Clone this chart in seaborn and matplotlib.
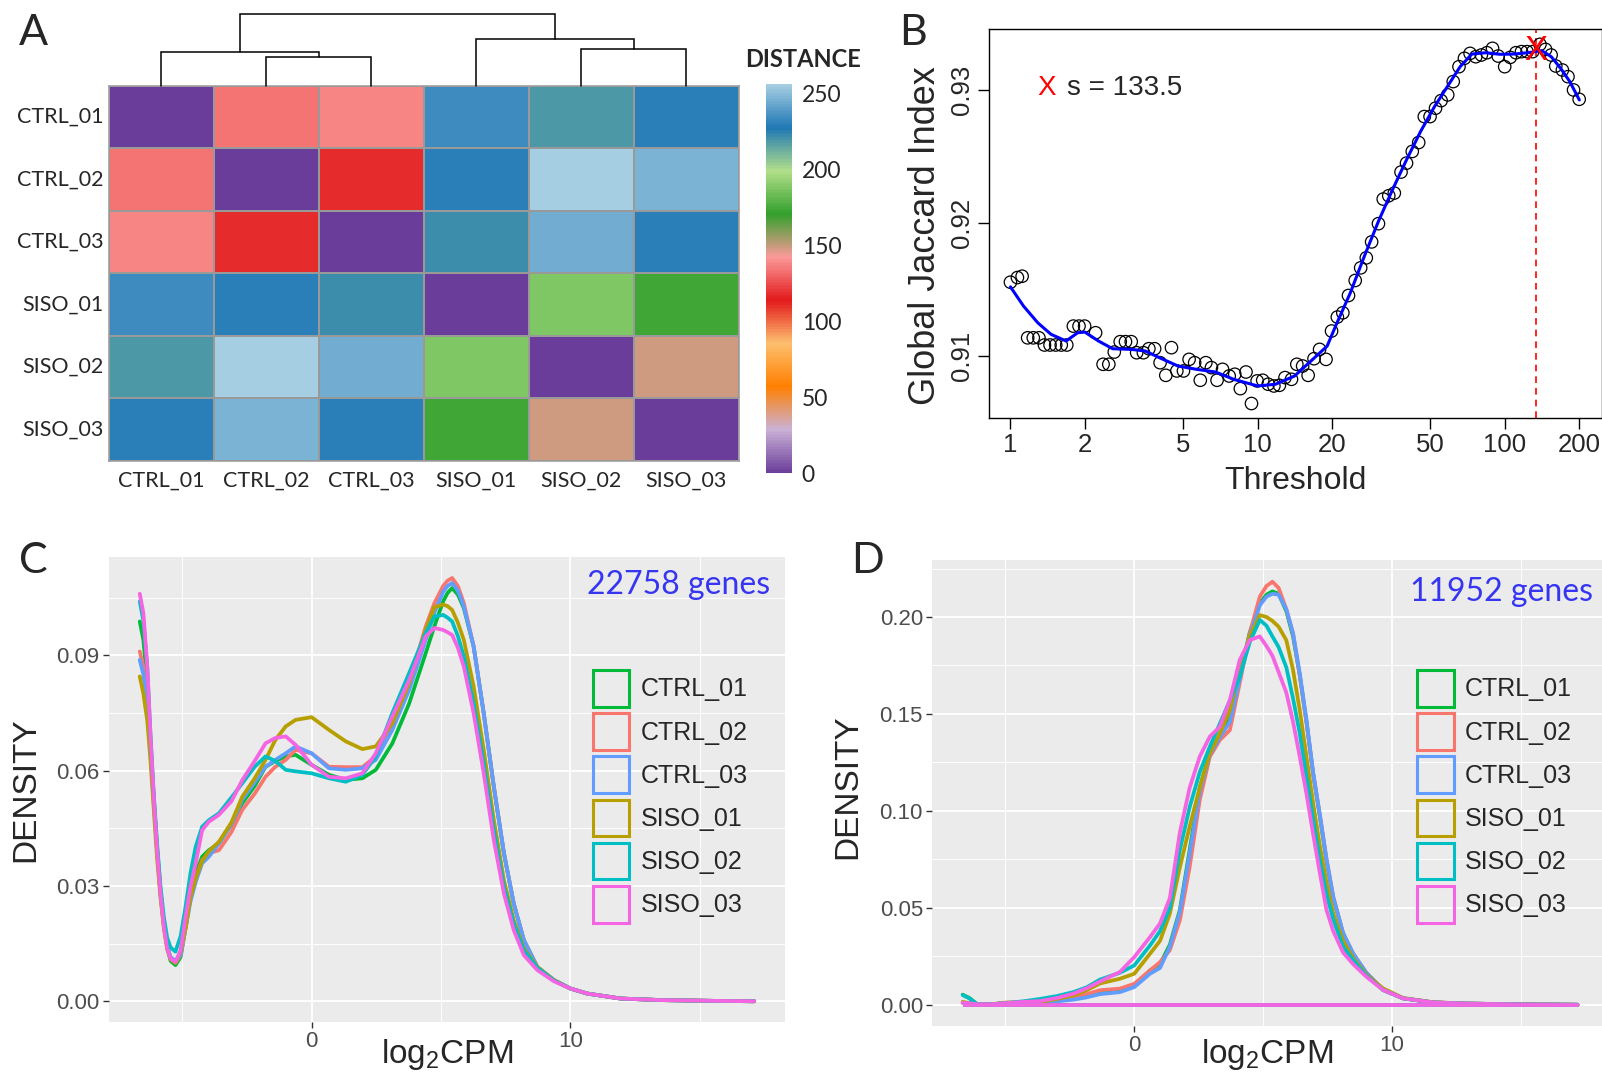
import matplotlib
matplotlib.use("Agg")
import matplotlib.pyplot as plt
from matplotlib.colors import LinearSegmentedColormap
from matplotlib.patches import Patch
from matplotlib.ticker import NullLocator
import seaborn as sns
import pandas as pd

sns.set_style("white")
plt.rcParams["font.family"] = ["Liberation Sans", "DejaVu Sans"]
plt.rcParams["mathtext.default"] = "regular"

# ---------------- data ----------------
samples = ["CTRL_01", "CTRL_02", "CTRL_03", "SISO_01", "SISO_02", "SISO_03"]
colors = ["#00BA38", "#F8766D", "#619CFF", "#B79F00", "#00BFC4", "#F564E3"]

# panel A: sample distance matrix
dist_ctrl01 = [0, 133, 137, 233, 218, 229]
dist_ctrl02 = [133, 0, 117, 229, 255, 246]
dist_ctrl03 = [137, 117, 0, 221, 244, 229]
dist_siso01 = [233, 229, 221, 0, 187, 173]
dist_siso02 = [218, 255, 244, 187, 0, 148]
dist_siso03 = [229, 246, 229, 173, 148, 0]
# dendrogram merges (leaves 0-5, new nodes numbered 6..)
merge_pairs = [(1, 2), (0, 6), (4, 5), (3, 8), (7, 9)]
merge_heights = [29.0, 34.0, 36.4, 46.7, 71.4]
cbar_ticks = [0, 50, 100, 150, 200, 250]
paired_rev = ["#6A3D9A", "#CAB2D6", "#FF7F00", "#FDBF6F", "#E31A1C",
              "#FB9A99", "#33A02C", "#B2DF8A", "#1F78B4", "#A6CEE3"]

# panel B: global jaccard index vs threshold
thr = [1.0, 1.067, 1.115, 1.174, 1.237, 1.304, 1.373, 1.446, 1.524, 1.605, 1.69,
       1.797, 1.894, 1.995, 2.21, 2.37, 2.50, 2.63, 2.78, 2.92, 3.08, 3.24, 3.45,
       3.63, 3.83, 4.03, 4.25, 4.48, 4.71, 5.01, 5.28, 5.56, 5.86, 6.17, 6.5, 6.85,
       7.21, 7.67, 8.08, 8.51, 8.97, 9.44, 9.95, 10.48, 11.03, 11.63, 12.24, 12.9,
       13.7, 14.4, 15.2, 16.0, 16.9, 17.8, 18.9, 19.9, 21.0, 22.1, 23.3, 24.8, 26.1,
       27.5, 28.9, 30.8, 32.2, 33.9, 35.7, 38.0, 40.0, 42.2, 44.8, 47.2, 49.8, 52.4,
       55.2, 58.7, 61.8, 65.2, 68.6, 72.3, 76.2, 80.3, 84.6, 89.1, 93.9, 99.8, 105.1,
       110.8, 116.7, 122.9, 129.5, 138.6, 146.0, 153.8, 160.6, 170.8, 179.9, 189.5, 199.7]
jac = [0.91555, 0.9159, 0.9160, 0.91137, 0.91137, 0.91137, 0.91083, 0.91083, 0.91083,
       0.91083, 0.91083, 0.91225, 0.91225, 0.91225, 0.91175, 0.90938, 0.90938, 0.9103,
       0.91108, 0.91108, 0.91108, 0.91025, 0.91025, 0.91055, 0.91055, 0.9095, 0.90855,
       0.91063, 0.90888, 0.90888, 0.90975, 0.9095, 0.90818, 0.9095, 0.90913, 0.90818,
       0.909, 0.9085, 0.90863, 0.90755, 0.9088, 0.90643, 0.90813, 0.90818, 0.90788,
       0.90775, 0.9078, 0.90838, 0.90825, 0.90938, 0.90925, 0.90855, 0.9098, 0.9105,
       0.90975, 0.91188, 0.91293, 0.91325, 0.91455, 0.91568, 0.91663, 0.91738, 0.91858,
       0.91995, 0.9218, 0.92205, 0.92225, 0.92383, 0.9245, 0.92538, 0.92605, 0.928,
       0.928, 0.92863, 0.9292, 0.92963, 0.93063, 0.93175, 0.93238, 0.93275, 0.9325,
       0.93263, 0.9328, 0.93313, 0.93255, 0.93175, 0.93245, 0.9328, 0.93288, 0.93288,
       0.93288, 0.93343, 0.93305, 0.93263, 0.9318, 0.9315, 0.931, 0.93, 0.9293]
fit_x = [1.0, 1.13, 1.29, 1.46, 1.68, 1.87, 2.0, 2.27, 2.59, 3.08, 3.51, 4.0, 4.76,
         5.66, 6.75, 8.0, 10.0, 11.8, 14.1, 16.7, 19.1, 20.8, 23.7, 27.0, 30.8, 35.1,
         40.0, 45.6, 51.9, 59.1, 65.9, 73.5, 83.8, 95.5, 109, 124, 141, 154, 168, 183, 200]
fit_y = [0.9152, 0.91375, 0.9125, 0.91163, 0.91113, 0.91175, 0.9118, 0.91113, 0.91055,
         0.9105, 0.91038, 0.90988, 0.90925, 0.909, 0.9088, 0.90825, 0.90775, 0.90788,
         0.9085, 0.90975, 0.91075, 0.91238, 0.91475, 0.9175, 0.92013, 0.9225, 0.92475,
         0.92688, 0.92875, 0.93038, 0.93175, 0.9327, 0.9328, 0.93268, 0.9327, 0.9328,
         0.93295, 0.9325, 0.93163, 0.93063, 0.92925]
best_s = 133.5
best_j = 0.93297
b_xticks = [1, 2, 5, 10, 20, 50, 100, 200]
b_yticks = [0.91, 0.92, 0.93]

# panel C: density of log2CPM, all genes
xC = [-6.64, -6.5, -6.35, -6.23, -6.1, -5.97, -5.84, -5.71, -5.58, -5.45,
      -5.26, -5.06, -4.87, -4.68, -4.48, -4.23, -3.97, -3.58, -3.1, -2.68,
      -2.2, -1.78, -1.4, -1.0, -0.62, 0.0, 0.67, 1.32, 1.96, 2.48,
      3.12, 3.77, 4.41, 4.74, 5.08, 5.25, 5.43, 5.65, 5.88, 6.26,
      6.65, 7.04, 7.43, 7.81, 8.2, 8.72, 9.36, 10.0, 10.65, 11.94,
      13.5, 15.5, 17.1]
c_ctrl01 = [0.0988, 0.0940, 0.0830, 0.0680, 0.0530, 0.0400, 0.0290, 0.0200, 0.0140, 0.0105,
            0.0094, 0.0115, 0.0194, 0.0280, 0.0333, 0.0376, 0.0393, 0.0411, 0.0460, 0.0515,
            0.0560, 0.0610, 0.0625, 0.0637, 0.0641, 0.0615, 0.0589, 0.0576, 0.0580, 0.0602,
            0.0671, 0.0775, 0.0906, 0.0975, 0.1040, 0.1062, 0.1075, 0.1058, 0.1023, 0.0923,
            0.0749, 0.0558, 0.0385, 0.0254, 0.0159, 0.0089, 0.0055, 0.0033, 0.0020, 0.0007,
            0.0003, 0.0001, 0.0]
c_ctrl02 = [0.0910, 0.0870, 0.0780, 0.0660, 0.0520, 0.0390, 0.0280, 0.0200, 0.0140, 0.0110,
            0.0100, 0.0120, 0.0190, 0.0270, 0.0320, 0.0367, 0.0385, 0.0393, 0.0440, 0.0498,
            0.0540, 0.0584, 0.0610, 0.0628, 0.0654, 0.0645, 0.0610, 0.0609, 0.0609, 0.0637,
            0.0723, 0.0828, 0.0975, 0.1035, 0.1080, 0.1094, 0.1101, 0.1080, 0.1036, 0.0923,
            0.0749, 0.0558, 0.0385, 0.0254, 0.0159, 0.0089, 0.0055, 0.0033, 0.0020, 0.0007,
            0.0003, 0.0001, 0.0]
c_ctrl03 = [0.0888, 0.0850, 0.0770, 0.0650, 0.0520, 0.0390, 0.0280, 0.0200, 0.0145, 0.0115,
            0.0105, 0.0120, 0.0190, 0.0260, 0.0310, 0.0359, 0.0376, 0.0411, 0.0460, 0.0524,
            0.0570, 0.0610, 0.0628, 0.0645, 0.0663, 0.0645, 0.0606, 0.0602, 0.0606, 0.0628,
            0.0706, 0.0810, 0.0940, 0.1010, 0.1065, 0.1080, 0.1088, 0.1068, 0.1027, 0.0923,
            0.0749, 0.0558, 0.0385, 0.0254, 0.0159, 0.0089, 0.0055, 0.0033, 0.0020, 0.0007,
            0.0003, 0.0001, 0.0]
c_siso01 = [0.0845, 0.0800, 0.0730, 0.0630, 0.0500, 0.0370, 0.0270, 0.0190, 0.0135, 0.0110,
            0.0100, 0.0130, 0.0190, 0.0270, 0.0320, 0.0365, 0.0390, 0.0415, 0.0465, 0.0532,
            0.0580, 0.0628, 0.0680, 0.0715, 0.0732, 0.0739, 0.0706, 0.0676, 0.0656, 0.0663,
            0.0723, 0.0828, 0.0966, 0.1025, 0.1032, 0.1028, 0.1018, 0.0985, 0.0940, 0.0819,
            0.0654, 0.0472, 0.0315, 0.0211, 0.0137, 0.0089, 0.0055, 0.0033, 0.0020, 0.0007,
            0.0003, 0.0001, 0.0]
c_siso02 = [0.1040, 0.0990, 0.0870, 0.0700, 0.0540, 0.0410, 0.0300, 0.0220, 0.0165, 0.0140,
            0.0129, 0.0170, 0.0246, 0.0333, 0.0402, 0.0454, 0.0471, 0.0489, 0.0530, 0.0567,
            0.0610, 0.0637, 0.0625, 0.0602, 0.0598, 0.0593, 0.0580, 0.0571, 0.0589, 0.0637,
            0.0750, 0.0854, 0.0958, 0.1001, 0.1005, 0.0998, 0.0988, 0.0950, 0.0897, 0.0775,
            0.0619, 0.0445, 0.0298, 0.0202, 0.0132, 0.0087, 0.0054, 0.0033, 0.0020, 0.0007,
            0.0003, 0.0001, 0.0]
c_siso03 = [0.1060, 0.1010, 0.0871, 0.0697, 0.0532, 0.0393, 0.0280, 0.0194, 0.0137, 0.0111,
            0.0102, 0.0133, 0.0220, 0.0298, 0.0359, 0.0445, 0.0467, 0.0485, 0.0520, 0.0575,
            0.0625, 0.0671, 0.0685, 0.0689, 0.0667, 0.0615, 0.0584, 0.0580, 0.0593, 0.0645,
            0.0741, 0.0836, 0.0949, 0.0971, 0.0966, 0.0960, 0.0953, 0.0920, 0.0871, 0.0749,
            0.0593, 0.0419, 0.0280, 0.0185, 0.0120, 0.0081, 0.0052, 0.0033, 0.0020, 0.0007,
            0.0003, 0.0001, 0.0]

# panel D: density of log2CPM, filtered genes
xD = [-6.66, -6.4, -6.1, -5.5, -4.95, -4.3, -3.66, -3.0, -2.37, -1.85,
      -1.33, -0.56, 0.0, 0.61, 1.0, 1.38, 1.77, 2.15, 2.54, 2.93,
      3.32, 3.71, 4.09, 4.48, 4.87, 5.13, 5.36, 5.6, 5.9, 6.16,
      6.42, 6.68, 6.94, 7.2, 7.46, 7.72, 8.1, 8.49, 9.0, 9.66,
      10.43, 11.6, 12.9, 15.0, 17.2]
d_ctrl01 = [0.0052, 0.0035, 0.0003, 0.0003, 0.0009, 0.0012, 0.0014, 0.0020, 0.0030, 0.0045,
            0.0065, 0.0080, 0.0100, 0.0177, 0.0210, 0.0310, 0.0490, 0.0800, 0.1120, 0.1300,
            0.1390, 0.1500, 0.1700, 0.1920, 0.2070, 0.2115, 0.2132, 0.2120, 0.2030, 0.1900,
            0.1700, 0.1460, 0.1190, 0.0970, 0.0740, 0.0550, 0.0370, 0.0260, 0.0165, 0.0076,
            0.0033, 0.0012, 0.0006, 0.0002, 0.0]
d_ctrl02 = [0.0010, 0.0008, 0.0003, 0.0003, 0.0009, 0.0012, 0.0014, 0.0025, 0.0040, 0.0055,
            0.0075, 0.0083, 0.0108, 0.0177, 0.0220, 0.0282, 0.0437, 0.0712, 0.1056, 0.1279,
            0.1365, 0.1417, 0.1658, 0.1916, 0.2105, 0.2160, 0.2182, 0.2150, 0.2040, 0.1916,
            0.1700, 0.1460, 0.1193, 0.0980, 0.0750, 0.0557, 0.0368, 0.0265, 0.0165, 0.0076,
            0.0033, 0.0012, 0.0006, 0.0002, 0.0]
d_ctrl03 = [0.0010, 0.0008, 0.0003, 0.0003, 0.0009, 0.0012, 0.0014, 0.0018, 0.0026, 0.0038,
            0.0055, 0.0065, 0.0091, 0.0160, 0.0190, 0.0300, 0.0480, 0.0780, 0.1100, 0.1290,
            0.1380, 0.1460, 0.1680, 0.1900, 0.2060, 0.2105, 0.2120, 0.2115, 0.2040, 0.1916,
            0.1710, 0.1470, 0.1200, 0.0980, 0.0750, 0.0557, 0.0370, 0.0265, 0.0165, 0.0076,
            0.0033, 0.0012, 0.0006, 0.0002, 0.0]
d_siso01 = [0.0015, 0.0008, 0.0003, 0.0003, 0.0012, 0.0012, 0.0014, 0.0030, 0.0048, 0.0075,
            0.0110, 0.0134, 0.0160, 0.0263, 0.0330, 0.0470, 0.0710, 0.0920, 0.1120, 0.1297,
            0.1400, 0.1520, 0.1727, 0.1900, 0.2010, 0.2000, 0.1980, 0.1950, 0.1880, 0.1727,
            0.1520, 0.1280, 0.1039, 0.0820, 0.0630, 0.0471, 0.0330, 0.0240, 0.0155, 0.0084,
            0.0035, 0.0013, 0.0006, 0.0002, 0.0]
d_siso02 = [0.0050, 0.0033, 0.0003, 0.0003, 0.0009, 0.0018, 0.0030, 0.0045, 0.0065, 0.0090,
            0.0130, 0.0165, 0.0203, 0.0306, 0.0380, 0.0500, 0.0800, 0.1020, 0.1200, 0.1331,
            0.1450, 0.1570, 0.1692, 0.1870, 0.1985, 0.1955, 0.1900, 0.1845, 0.1740, 0.1580,
            0.1400, 0.1180, 0.0960, 0.0746, 0.0570, 0.0440, 0.0300, 0.0230, 0.0150, 0.0076,
            0.0033, 0.0012, 0.0006, 0.0002, 0.0]
d_siso03 = [0.0010, 0.0008, 0.0003, 0.0003, 0.0009, 0.0015, 0.0019, 0.0035, 0.0057, 0.0085,
            0.0120, 0.0169, 0.0246, 0.0349, 0.0420, 0.0550, 0.0890, 0.1120, 0.1280, 0.1383,
            0.1434, 0.1572, 0.1778, 0.1881, 0.1900, 0.1850, 0.1800, 0.1716, 0.1610, 0.1460,
            0.1280, 0.1090, 0.0880, 0.0680, 0.0488, 0.0380, 0.0270, 0.0210, 0.0145, 0.0076,
            0.0033, 0.0012, 0.0006, 0.0002, 0.0]

c_yticks = [0.00, 0.03, 0.06, 0.09]
c_yminor = [0.015, 0.045, 0.075, 0.105]
d_yticks = [0.00, 0.05, 0.10, 0.15, 0.20]
d_yminor = [0.025, 0.075, 0.125, 0.175, 0.225]
x_major = [0, 10]
x_minor = [-5, 5, 15]
genes_c = 22758
genes_d = 11952

# ---------------- layout helpers (pixel boxes) ----------------
W, H = 1602, 1075
fig = plt.figure(figsize=(W / 100, H / 100), dpi=100)


def fx(px):
    return px / W


def fy(py):
    return 1 - py / H


def box(l, t, r, b):
    return [fx(l), fy(b), (r - l) / W, (b - t) / H]


pal = dict(zip(samples, colors))

# ---------------- A: heatmap ----------------
dist = pd.DataFrame([dist_ctrl01, dist_ctrl02, dist_ctrl03, dist_siso01, dist_siso02, dist_siso03],
                    index=samples, columns=samples)
cmap = LinearSegmentedColormap.from_list("paired_rev", paired_rev)
axA = fig.add_axes(box(108.8, 85.7, 738.6, 460.7))
cax = fig.add_axes(box(766.4, 84, 791.9, 473.3))
sns.heatmap(dist, cmap=cmap, vmin=0, vmax=256, linewidths=1.1, linecolor="#999999",
            cbar_ax=cax, ax=axA)
for s in axA.spines.values():
    s.set_visible(True)
    s.set_color("#999999")
    s.set_linewidth(1.1)
axA.tick_params(length=0)
axA.tick_params(axis="y", pad=4)
axA.tick_params(axis="x", pad=7)
axA.set_xticklabels(samples, rotation=0, fontfamily="Lato", fontsize=15.5)
axA.set_yticklabels(samples, rotation=0, fontfamily="Lato", fontsize=15.5)
axA.set_xlabel("")
axA.set_ylabel("")
cbar = axA.collections[0].colorbar
cbar.outline.set_visible(False)
cbar.set_ticks(cbar_ticks)
cax.tick_params(length=0, pad=7)
for t in cax.get_yticklabels():
    t.set_fontfamily("Lato")
    t.set_fontsize(16.5)
fig.text(fx(745), fy(66.7), "DISTANCE", fontfamily="Lato", fontweight="bold",
         fontsize=17, va="baseline", ha="left")

# dendrogram
axT = fig.add_axes(box(108.8, 14.3, 738.6, 85.7))
pos = {i: i + 0.5 for i in range(len(samples))}
hgt = {i: 0.0 for i in range(len(samples))}
for k, ((a, b), h) in enumerate(zip(merge_pairs, merge_heights)):
    axT.plot([pos[a], pos[a], pos[b], pos[b]], [hgt[a], h, h, hgt[b]],
             color="black", lw=1.1, clip_on=False, solid_joinstyle="miter")
    node = len(samples) + k
    pos[node] = (pos[a] + pos[b]) / 2
    hgt[node] = h
axT.set_xlim(0, len(samples))
axT.set_ylim(0, max(merge_heights))
axT.axis("off")

# ---------------- B: jaccard index ----------------
narrow = ["Liberation Sans Narrow", "Liberation Sans"]
axB = fig.add_axes(box(989, 29.3, 1602, 418.3))
axB.set_xscale("log")
sns.scatterplot(x=thr, y=jac, marker="o", s=80, facecolor="none", edgecolor="black",
                linewidth=0.9, ax=axB, zorder=2)
sns.lineplot(x=fit_x, y=fit_y, color="#0000FF", linewidth=2.2, sort=False, ax=axB, zorder=3)
axB.axvline(best_s, color="red", lw=1.2, ls=(0, (4, 3)), zorder=1)
axB.text(best_s, best_j, "X", color="red", fontsize=25, ha="center", va="center",
         fontfamily=narrow, zorder=4)
axB.set_xlim(0.819, 247)
axB.set_ylim(0.90532, 0.93456)
axB.set_xticks(b_xticks, [str(t) for t in b_xticks], fontfamily=narrow, fontsize=18.5)
axB.xaxis.set_minor_locator(NullLocator())
axB.set_yticks(b_yticks, [f"{t:.2f}" for t in b_yticks], rotation=90, va="center",
               fontfamily=narrow, fontsize=18.5)
axB.tick_params(direction="out", length=8, width=1, color="black", pad=2.5,
                bottom=True, left=True, top=False, right=False)
for s in axB.spines.values():
    s.set_visible(True)
    s.set_color("black")
    s.set_linewidth(1.0)
axB.set_xlabel("Threshold", fontsize=23, va="top")
axB.xaxis.set_label_coords(0.5, (418.3 - 466) / 389)
axB.set_ylabel("Global Jaccard Index", fontsize=26, va="center")
axB.yaxis.set_label_coords((926 - 989) / 613, 0.47)
fig.text(fx(1047), fy(88), "X", color="red", fontsize=20, ha="center", va="center")
fig.text(fx(1067), fy(88), f"s = {best_s}", fontsize=20, ha="left", va="center")


# ---------------- C / D: density panels ----------------
def density_panel(ax, xs, ys, xlim, ylim, yticks, yminor, baseline, legend_xy):
    df = pd.concat([pd.DataFrame({"log2CPM": xs, "density": y, "sample": s})
                    for s, y in zip(samples, ys)], ignore_index=True)
    ax.set_facecolor("#EBEBEB")
    sns.lineplot(data=df, x="log2CPM", y="density", hue="sample", hue_order=samples,
                 palette=pal, estimator=None, sort=False, linewidth=2.7, legend=False, ax=ax)
    for ln in ax.get_lines():
        ln.set_solid_joinstyle("round")
    if baseline:
        for s in samples:
            ax.plot([xs[0], xs[-1]], [0, 0], color=pal[s], lw=2.7, solid_capstyle="butt")
    ax.set_xlim(*xlim)
    ax.set_ylim(*ylim)
    ax.set_xticks(x_major, [str(v) for v in x_major])
    ax.set_xticks(x_minor, minor=True)
    ax.set_yticks(yticks, [f"{v:.2f}" for v in yticks])
    ax.set_yticks(yminor, minor=True)
    ax.grid(which="major", color="white", lw=1.3)
    ax.grid(which="minor", color="white", lw=0.7)
    ax.set_axisbelow(True)
    for s in ax.spines.values():
        s.set_visible(False)
    ax.tick_params(which="major", length=4.5, width=1, color="#333333", labelcolor="#4D4D4D",
                   labelsize=16, pad=2, bottom=True, left=True)
    ax.tick_params(which="minor", length=0)
    ax.set_xlabel("log$_2$CPM", fontsize=24, va="top")
    ax.set_ylabel("DENSITY", fontsize=24, va="center")
    handles = [Patch(facecolor="none", edgecolor=pal[s], linewidth=2.2, label=s) for s in samples]
    ax.legend(handles=handles, loc="upper left", bbox_to_anchor=(fx(legend_xy[0]), fy(legend_xy[1])),
              bbox_transform=fig.transFigure, frameon=False, fontsize=18, handlelength=1.46,
              handleheight=1.88, handletextpad=0.45, labelspacing=0.26, borderpad=0,
              borderaxespad=0)


axC = fig.add_axes(box(108.7, 556.5, 785, 1022))
density_panel(axC, xC, [c_ctrl01, c_ctrl02, c_ctrl03, c_siso01, c_siso02, c_siso03],
              (-7.84, 18.29), (-0.0054, 0.1157), c_yticks, c_yminor, False, (592.7, 670))
axC.xaxis.set_label_coords(0.5, (1022 - 1037) / 465.5)
axC.yaxis.set_label_coords((25.5 - 108.7) / 676.3, 0.5)
fig.text(fx(770), fy(594.3), f"{genes_c} genes", fontfamily="Lato", fontsize=23,
         color="#3636F2", ha="right", va="baseline")

axD = fig.add_axes(box(932, 560, 1602, 1025.5))
density_panel(axD, xD, [d_ctrl01, d_ctrl02, d_ctrl03, d_siso01, d_siso02, d_siso03],
              (-7.85, 18.15), (-0.0107, 0.2294), d_yticks, d_yminor, True, (1417, 670))
axD.xaxis.set_label_coords(0.5, (1025.5 - 1037) / 465.5)
axD.yaxis.set_label_coords((848 - 932) / 670, 0.513)
fig.text(fx(1593), fy(601.3), f"{genes_d} genes", fontfamily="Lato", fontsize=23,
         color="#3636F2", ha="right", va="baseline")

# panel letters
for letter, x, y in [("A", 19, 45), ("B", 899, 45), ("C", 19, 573), ("D", 851, 573)]:
    fig.text(fx(x), fy(y), letter, fontfamily="Lato", fontsize=31, va="baseline", ha="left")

fig.savefig("out.png", dpi=100)
